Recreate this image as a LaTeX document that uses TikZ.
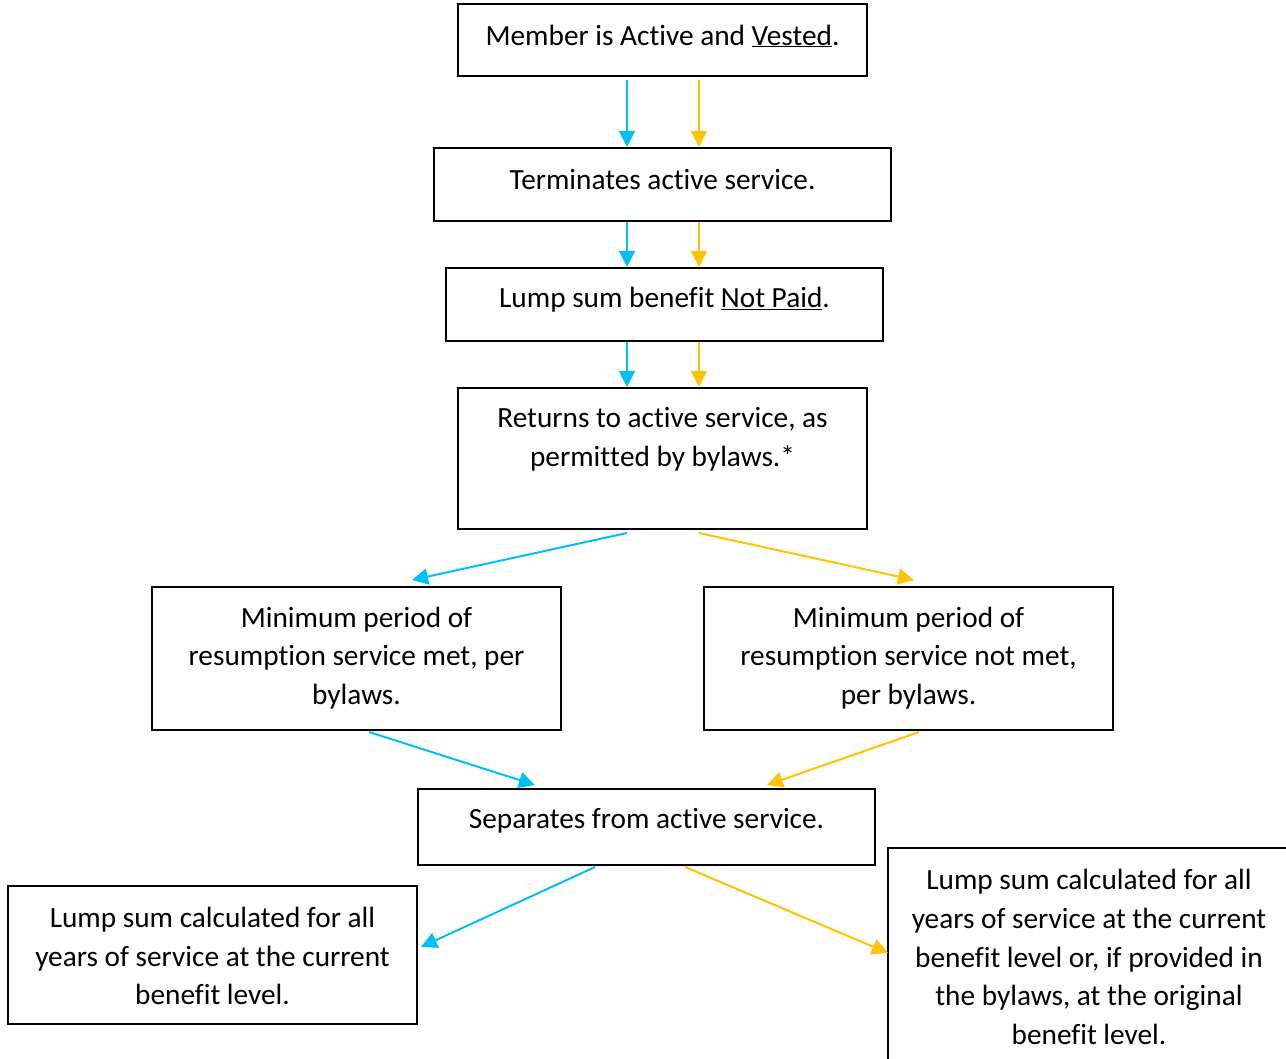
\documentclass[tikz,border=0pt]{standalone}
\usepackage{fontspec}
\setmainfont{Carlito}[Ligatures={NoCommon,NoRequired,NoContextual}]
\usetikzlibrary{arrows.meta,calc}
\definecolor{cblue}{HTML}{00C0F5}
\definecolor{cyell}{HTML}{FFC300}
\newcommand{\nlg}{\kern0pt{}}
\begin{document}
\begin{tikzpicture}[x=1pt,y=-1pt,
  box/.style={draw=black,line width=2pt,minimum width=409pt,inner sep=0pt},
  txt/.style={align=center,inner sep=0pt,font=\fontsize{29.3}{38.7}\selectfont},
  barrow/.style={draw=cblue,line width=2pt,-{Triangle[length=16pt,width=16pt]}},
  yarrow/.style={draw=cyell,line width=2pt,-{Triangle[length=16pt,width=16pt]}}]
\path[use as bounding box] (0,0) rectangle (1286,1059);
\clip (0,0) rectangle (1286,1059);
% boxes
\node[box,minimum width=409pt,minimum height=72pt] (b1) at (662.5,40) {};
\node[box,minimum width=457pt,minimum height=73pt] (b2) at (662.5,184.5) {};
\node[box,minimum width=437pt,minimum height=73pt] (b3) at (664.5,304.5) {};
\node[box,minimum width=409pt,minimum height=141pt] (b4) at (662.5,458.5) {};
\node[box,minimum width=409pt,minimum height=143pt] (b5) at (356.5,658.5) {};
\node[box,minimum width=409pt,minimum height=143pt] (b6) at (908.5,658.5) {};
\node[box,minimum width=457pt,minimum height=76pt] (b7) at (646.5,827) {};
\node[box,minimum width=409pt,minimum height=138pt] (b8) at (212.5,955) {};
\node[box,minimum width=409pt,minimum height=232pt] (b9) at (1092.5,964) {};
% texts
\node[txt] (t1) at (662.5,36) {Member is Act\nlg ive and \underline{Vested}.};
\node[txt] (t2) at (662.5,180) {Terminates act\nlg ive service.};
\node[txt] (t3) at (664.5,300) {Lump sum benef\nlg it \underline{Not Paid}.};
\node[txt] (t4) at (662.5,439.5) {Returns to act\nlg ive service, as\\permit\nlg t\nlg ed by bylaws.*};
\node[txt] (t5) at (356.5,658) {Minimum period of\\resumpt\nlg ion service met, per\\bylaws.};
\node[txt] (t6) at (908.5,658) {Minimum period of\\resumpt\nlg ion service not met,\\per bylaws.};
\node[txt] (t7) at (646.5,821) {Separates from act\nlg ive service.};
\node[txt] (t8) at (212.5,956) {Lump sum calculated for all\\years of service at the current\\benef\nlg it level.};
\node[txt] (t9) at (1089,957) {Lump sum calculated for all\\years of service at the current\\benef\nlg it level or, if provided in\\the bylaws, at the original\\benef\nlg it level.};
% arrows
\coordinate (a1b) at (627,80); \coordinate (a1y) at (699,80);
\draw[barrow] (a1b) -- (a1b |- b2.north);
\draw[yarrow] (a1y) -- (a1y |- b2.north);
\coordinate (a2b) at (627,222); \coordinate (a2y) at (699,222);
\draw[barrow] (a2b) -- (a2b |- b3.north);
\draw[yarrow] (a2y) -- (a2y |- b3.north);
\coordinate (a3b) at (627,342); \coordinate (a3y) at (699,342);
\draw[barrow] (a3b) -- (a3b |- b4.north);
\draw[yarrow] (a3y) -- (a3y |- b4.north);
\coordinate (a4b) at (627,533); \coordinate (a4y) at (699,533);
\coordinate (e4b) at (412,580); \coordinate (e4y) at (914,580);
\draw[barrow] (a4b) -- (e4b);
\draw[yarrow] (a4y) -- (e4y);
\coordinate (a5b) at (369,732); \coordinate (a5y) at (919,732);
\coordinate (e5b) at (535,785); \coordinate (e5y) at (767,785);
\draw[barrow] (a5b) -- (e5b);
\draw[yarrow] (a5y) -- (e5y);
\coordinate (a6b) at (595,867); \coordinate (a6y) at (685,867);
\coordinate (e6b) at (421,947); \coordinate (e6y) at (888,953);
\draw[barrow] (a6b) -- (e6b);
\draw[yarrow] (a6y) -- (e6y);
\end{tikzpicture}
\end{document}
